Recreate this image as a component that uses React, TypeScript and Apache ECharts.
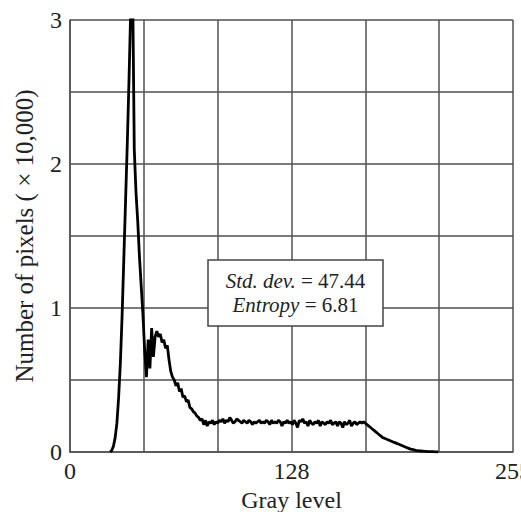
import React, { useEffect, useRef } from "react";
import * as echarts from "echarts";

// Histogram: number of pixels (x10,000) per gray level
const grayLevels: number[] = [];
const pixelCounts: number[] = [
  0, 0.01, 0.04, 0.1, 0.2, 0.38, 0.62, 0.95, 1.35, 1.75, // 23-32
  2.15, 2.6, 3.1, 3.3, 2.1, 1.8, 1.6, 1.35, 1.15, 0.95, // 33-42
  0.7, 0.52, 0.78, 0.58, 0.86, 0.66, 0.8, 0.84, 0.8, 0.82, // 43-52
  0.76, 0.78, 0.72, 0.74, 0.64, 0.56, 0.52, 0.5, 0.46, 0.48, // 53-62
  0.42, 0.44, 0.38, 0.39, 0.35, 0.36, 0.31, 0.3, 0.28, 0.27, // 63-72
  0.25, 0.24, 0.22, 0.23, 0.19, 0.22, 0.18, 0.21, 0.2, 0.22, // 73-82
  0.19, 0.21, 0.2, 0.22, 0.21, 0.23, 0.2, 0.22, 0.21, 0.24, // 83-92
  0.22, 0.2, 0.21, 0.23, 0.22, 0.21, 0.2, 0.22, 0.21, 0.2, // 93-102
  0.22, 0.21, 0.19, 0.21, 0.2, 0.21, 0.22, 0.2, 0.21, 0.2, // 103-112
  0.22, 0.21, 0.19, 0.22, 0.2, 0.21, 0.2, 0.22, 0.21, 0.18, // 113-122
  0.21, 0.2, 0.22, 0.2, 0.21, 0.19, 0.22, 0.2, 0.17, 0.22, // 123-132
  0.21, 0.23, 0.2, 0.21, 0.18, 0.22, 0.2, 0.19, 0.21, 0.2, // 133-142
  0.22, 0.18, 0.21, 0.2, 0.19, 0.21, 0.2, 0.22, 0.19, 0.2, // 143-152
  0.21, 0.18, 0.21, 0.2, 0.17, 0.21, 0.19, 0.2, 0.22, 0.18, // 153-162
  0.2, 0.21, 0.19, 0.2, 0.21, 0.2, 0.21, 0.2, 0.19, 0.18, // 163-172
  0.17, 0.16, 0.15, 0.14, 0.13, 0.12, 0.11, 0.1, 0.095, 0.09, // 173-182
  0.085, 0.08, 0.075, 0.07, 0.065, 0.06, 0.055, 0.05, 0.045, 0.04, // 183-192
  0.035, 0.03, 0.025, 0.02, 0.018, 0.015, 0.012, 0.01, 0.008, 0.007, // 193-202
  0.006, 0.005, 0.004, 0.003, 0.003, 0.002, 0.002, 0.001, 0.001, 0, // 203-212
];
const firstGray = 23;
for (let i = 0; i < pixelCounts.length; i++) grayLevels.push(firstGray + i);

const xTickLabels: Record<string, string> = { "0": "0", "127.5": "128", "255": "255" };
const yTickLabels: Record<string, string> = { "0": "0", "1": "1", "2": "2", "3": "3" };
const statLines = [
  { name: "Std. dev.", value: "47.44" },
  { name: "Entropy", value: "6.81" },
];

const FONT = "'Liberation Serif', 'Times New Roman', serif";

export default function App() {
  const ref = useRef<HTMLDivElement>(null);
  useEffect(() => {
    if (!ref.current) return;
    const chart = echarts.init(ref.current, undefined, { renderer: "svg" });
    const gridColor = "#505050";
    const data = grayLevels.map((g, i) => [g, pixelCounts[i]]);
    chart.setOption({
      animation: false,
      backgroundColor: "#fff",
      grid: {
        left: 70,
        right: 8,
        top: 20,
        bottom: 60,
        containLabel: false,
        outerBoundsMode: "none",
      },
      xAxis: {
        type: "value",
        min: 0,
        max: 255,
        interval: 42.5,
        name: "Gray level",
        nameLocation: "middle",
        nameGap: 28,
        nameTextStyle: { fontFamily: FONT, fontSize: 24, color: "#222" },
        axisLine: { show: true, lineStyle: { color: gridColor, width: 1.5 } },
        axisTick: { show: false },
        axisLabel: {
          fontFamily: FONT,
          fontSize: 24,
          color: "#222",
          margin: 7,
          formatter: (v: number) => xTickLabels[String(v)] ?? "",
        },
        splitLine: { show: true, lineStyle: { color: gridColor, width: 1.5 } },
      },
      yAxis: {
        type: "value",
        min: 0,
        max: 3,
        interval: 0.5,
        name: "Number of pixels ( × 10,000)",
        nameLocation: "middle",
        nameGap: 33,
        nameTextStyle: { fontFamily: FONT, fontSize: 25, color: "#222" },
        axisLine: { show: true, lineStyle: { color: gridColor, width: 1.5 } },
        axisTick: { show: false },
        axisLabel: {
          fontFamily: FONT,
          fontSize: 24,
          color: "#222",
          margin: 8,
          formatter: (v: number) => yTickLabels[String(v)] ?? "",
        },
        splitLine: { show: true, lineStyle: { color: gridColor, width: 1.5 } },
      },
      series: [
        {
          type: "line",
          data,
          showSymbol: false,
          symbol: "none",
          clip: true,
          lineStyle: { color: "#000", width: 2.8 },
          z: 3,
        },
      ],
      graphic: [
        {
          type: "rect",
          z: 100,
          shape: { x: 208, y: 260, width: 175, height: 66 },
          style: { fill: "#fff", stroke: "#444", lineWidth: 1.5 },
        },
        {
          type: "text",
          z: 101,
          x: 295.5,
          y: 293,
          style: {
            text: statLines.map((s) => `{i|${s.name}} = ${s.value}`).join("\n"),
            align: "center",
            verticalAlign: "middle",
            fontFamily: FONT,
            fontSize: 21,
            lineHeight: 24,
            fill: "#222",
            rich: {
              i: { fontFamily: FONT, fontSize: 21, fontStyle: "italic", fill: "#222", lineHeight: 24 },
            },
          },
        },
      ],
    });
    return () => chart.dispose();
  }, []);
  return (
    <div
      ref={ref}
      style={{ position: "fixed", left: 0, top: 0, width: 521, height: 512, background: "#fff" }}
    />
  );
}
